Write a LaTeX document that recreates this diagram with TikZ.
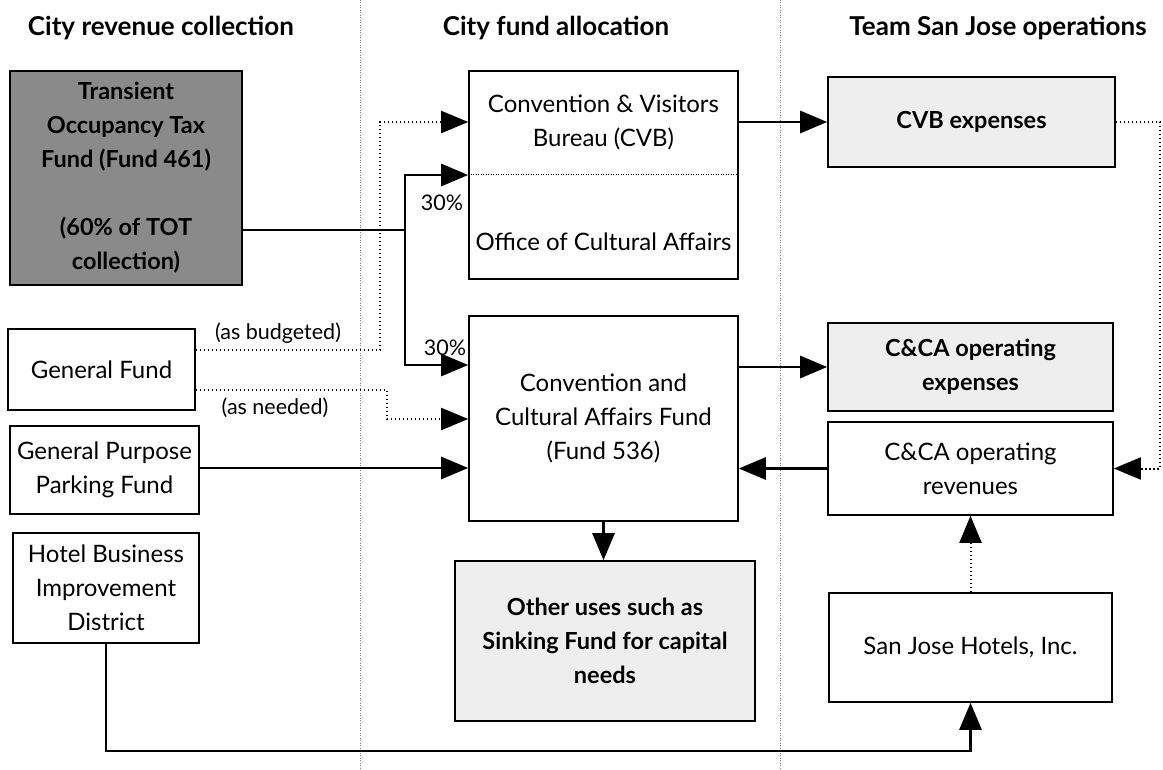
\documentclass[tikz,border=0pt]{standalone}
\usepackage{fontspec}
\setmainfont{Lato}
\usetikzlibrary{arrows.meta,calc}
\definecolor{darkfill}{HTML}{8A8A8A}
\definecolor{lightfill}{HTML}{EEEEEE}
\tikzset{
  box/.style={draw=black, line width=1.6pt, align=center, inner sep=2pt,
    font=\fontsize{24}{34}\selectfont},
  darkbox/.style={box, fill=darkfill, font=\fontsize{23.5}{34}\selectfont\bfseries},
  lightbox/.style={box, fill=lightfill, font=\fontsize{23.5}{34}\selectfont\bfseries},
  heading/.style={font=\fontsize{26}{30}\selectfont\bfseries},
  lbl/.style={font=\fontsize{21.5}{24}\selectfont, inner sep=1pt},
  tip/.style={-{Triangle[length=27pt,width=22pt]}},
  flow/.style={line width=2.8pt, tip},
  plain/.style={line width=2.8pt},
  dotflow/.style={line width=2pt, dash pattern=on 1.6pt off 2.4pt, tip},
  divider/.style={line width=1pt, gray, dash pattern=on 1pt off 1.5pt}
}
\begin{document}
\begin{tikzpicture}[x=1pt,y=-1pt]
\useasboundingbox (0,0) rectangle (1163,770);
% dividers
\draw[divider] (360,0) -- (360,770);
\draw[divider] (780,0) -- (780,770);
% headings
\node[heading] (h1) at (161,28) {City revenue collection};
\node[heading] (h2) at (556,28) {City fund allocation};
\node[heading] (h3) at (998,28) {Team San Jose operations};
% left column
\node[darkbox, minimum width=232pt, minimum height=214pt] (tot) at (126,178)
  {Transient\\Occupancy Tax\\Fund (Fund 461)\\[34pt](60\% of TOT\\collection)};
\node[box, minimum width=187pt, minimum height=81pt] (gf) at (101.5,369.5) {General Fund};
\node[box, minimum width=189pt, minimum height=88pt] (gppf) at (104.5,470) {General Purpose\\Parking Fund};
\node[box, minimum width=186pt, minimum height=110pt] (hbid) at (106,588) {Hotel Business\\Improvement\\District};
% middle column
\node[box, minimum width=269pt, minimum height=208pt] (cvboca) at (603.5,175) {};
\draw[line width=1pt, dash pattern=on 1pt off 1.5pt] (cvboca.west) -- (cvboca.east);
\node[font=\fontsize{24}{34}\selectfont, align=center] (cvbtxt) at (603.5,122) {Convention \& Visitors\\Bureau (CVB)};
\node[font=\fontsize{24}{34}\selectfont, align=center] (ocatxt) at (603.5,242) {Office of Cultural Affairs};
\node[box, minimum width=269pt, minimum height=205pt] (fund) at (603.5,418.5) {Convention and\\Cultural Affairs Fund\\(Fund 536)};
\node[lightbox, minimum width=300pt, minimum height=160pt] (other) at (605,641) {Other uses such as\\Sinking Fund for capital\\needs};
% right column
\node[lightbox, minimum width=287pt, minimum height=90pt] (cvbexp) at (971.5,122) {CVB expenses};
\node[lightbox, minimum width=285pt, minimum height=88pt] (opexp) at (970.5,367) {C\&CA operating\\expenses};
\node[box, minimum width=285pt, minimum height=93pt] (oprev) at (970.5,468.5) {C\&CA operating\\revenues};
\node[box, minimum width=283pt, minimum height=109pt] (sjh) at (970.5,647.5) {San Jose Hotels, Inc.};
% TOT split
\coordinate (j) at (405,230);
\draw[plain] (tot.east |- j) -- (j);
\draw[flow] (j) |- (cvboca.west);
\draw[flow] (j) |- (fund.west |- 0,365);
\node[lbl] (p1) at (442,203) {30\%};
\node[lbl] (p2) at (445,348) {30\%};
% general fund
\coordinate (gb) at (380,350);
\coordinate (gn) at (387,390);
\draw[dotflow] (gf.east |- gb) -- (gb) |- (cvboca.west |- 0,122);
\draw[dotflow] (gf.east |- gn) -- (gn) |- (fund.west |- 0,419);
\node[lbl] (asb) at (278,333) {(as budgeted)};
\node[lbl] (asn) at (275,408) {(as needed)};
% parking fund
\draw[flow] (gppf.east |- 0,468) -- (fund.west |- 0,468);
% HBID to SJH
\coordinate (hb) at (106,751);
\draw[flow] (hbid.south) -- (hb) -| (sjh.south);
% to right column
\draw[flow] (cvboca.east |- cvbexp.west) -- (cvbexp.west);
\draw[flow] (fund.east |- opexp.west) -- (opexp.west);
\draw[flow] (oprev.west) -- (fund.east |- oprev.west);
\draw[flow] (fund.south) -- (fund.south |- other.north);
\coordinate (rc) at (1160,122);
\draw[dotflow] (cvbexp.east) -- (rc) |- (oprev.east);
\draw[dotflow] (sjh.north) -- (oprev.south);
\end{tikzpicture}
\end{document}
